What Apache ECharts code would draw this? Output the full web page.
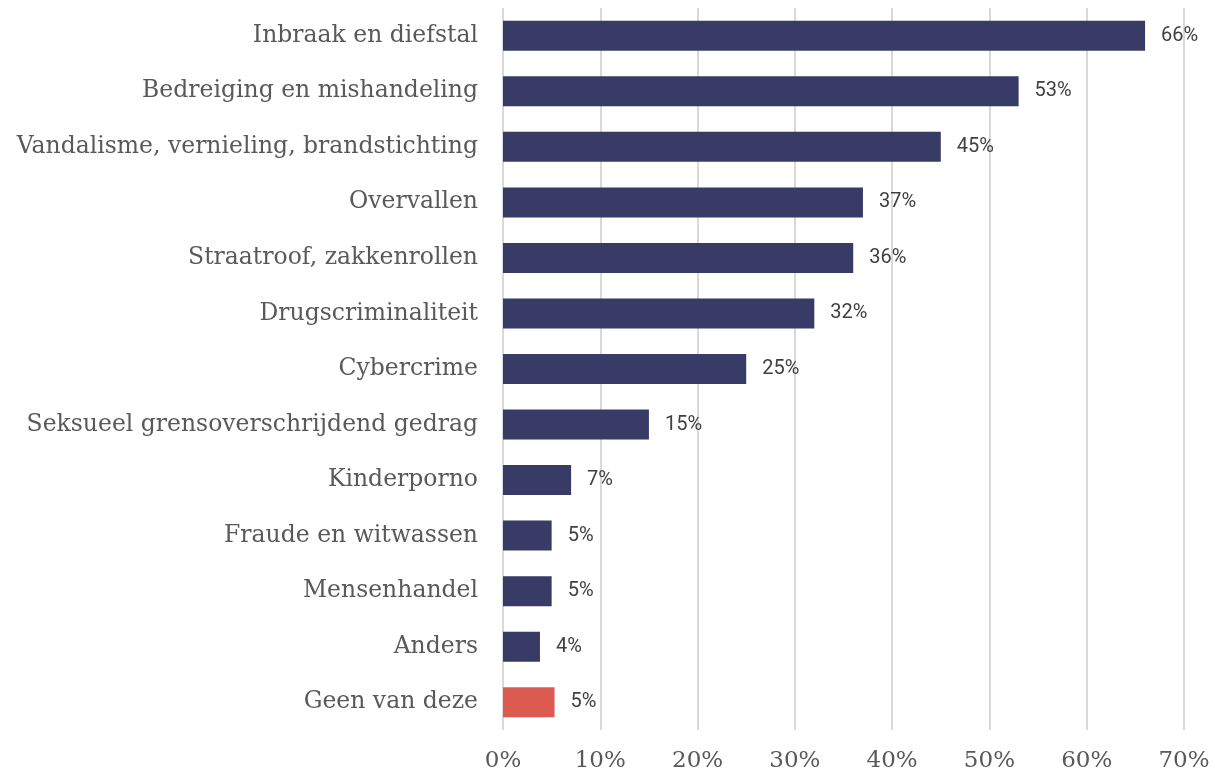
<!DOCTYPE html>
<html><head><meta charset="utf-8">
<script src="https://cdn.jsdelivr.net/npm/echarts@6/dist/echarts.min.js"></script>
<style>html,body{margin:0;padding:0;background:#fff}#c{width:1215px;height:773px}</style>
</head><body><div id="c"></div>
<script>
const categories = ["Inbraak en diefstal","Bedreiging en mishandeling","Vandalisme, vernieling, brandstichting","Overvallen","Straatroof, zakkenrollen","Drugscriminaliteit","Cybercrime","Seksueel grensoverschrijdend gedrag","Kinderporno","Fraude en witwassen","Mensenhandel","Anders","Geen van deze"];
const values = [66, 53, 45, 37, 36, 32, 25, 15, 7, 5, 5, 3.8, 5.3];
const highlight = ["Geen van deze"];
const xTicks = [0, 10, 20, 30, 40, 50, 60, 70];

const chart = echarts.init(document.getElementById('c'), null, {renderer:'canvas'});
chart.setOption({
  animation:false,
  grid:{left:503, right:31, top:8, bottom:43, containLabel:false},
  xAxis:{type:'value', min:xTicks[0], max:xTicks[xTicks.length-1], interval:10,
    axisLine:{show:false}, axisTick:{show:false},
    splitLine:{show:true, lineStyle:{color:'#d9d9d9', width:2}},
    axisLabel:{formatter:v=>v+'%', fontFamily:'DejaVu Serif', fontSize:23, color:'#595959', margin:20}},
  yAxis:{type:'category', inverse:true, data:categories,
    axisLine:{show:false}, axisTick:{show:false},
    axisLabel:{fontFamily:'DejaVu Serif', fontSize:23.5, color:'#595959', margin:25}},
  series:[{type:'bar', barWidth:30,
    data:values.map((v,i)=>({value:v, itemStyle:{color: highlight.includes(categories[i]) ? '#dc5b50' : '#383b66'}})),
    label:{show:true, position:'right', distance:16, formatter:p=>Math.round(p.value)+'%',
      fontFamily:'Roboto', fontSize:20, color:'#404040'}}]
});
</script></body></html>
